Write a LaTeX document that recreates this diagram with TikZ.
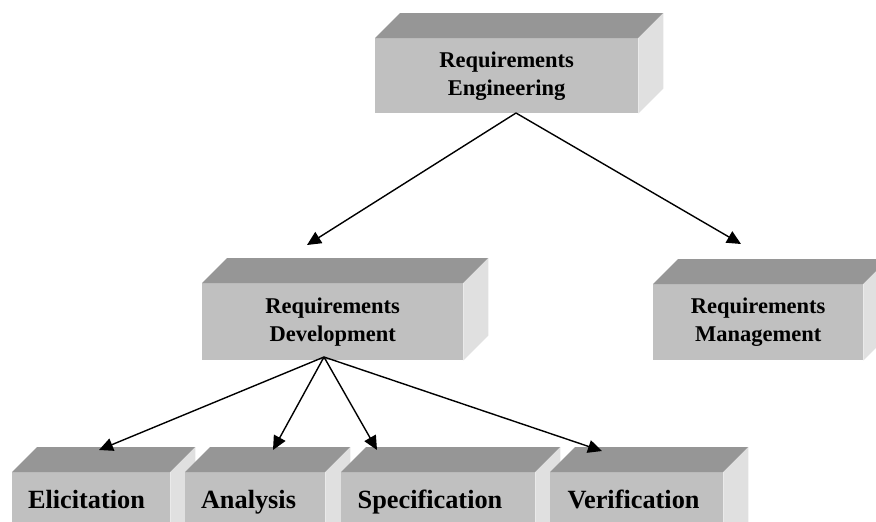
\documentclass[tikz,border=0pt]{standalone}
\usepackage{fontspec}
\setmainfont{Liberation Serif}
\usetikzlibrary{arrows.meta}
\definecolor{frontc}{RGB}{192,192,192}
\definecolor{topc}{RGB}{150,150,150}
\definecolor{sidec}{RGB}{224,224,224}
\tikzset{
  front/.style={fill=frontc, draw=none, inner sep=0pt, anchor=north west, align=center,
    font=\bfseries\fontsize{22.5}{28}\selectfont},
  lowtext/.style={anchor=base, inner sep=0pt, font=\bfseries\fontsize{26.3}{30}\selectfont},
  arr/.style={line width=1.4pt, -{Triangle[length=14pt,width=13pt]}},
}
\newcommand\boxfaces[1]{%
  \fill[topc] (#1.north west) -- ([shift={(25pt,25pt)}]#1.north west)
     -- ([shift={(25pt,25pt)}]#1.north east) -- (#1.north east) -- cycle;
  \fill[sidec] (#1.north east) -- ([shift={(25pt,25pt)}]#1.north east)
     -- ([shift={(25pt,25pt)}]#1.south east) -- (#1.south east) -- cycle;
}
\begin{document}
\begin{tikzpicture}[x=1pt,y=-1pt]
\useasboundingbox (0,0) rectangle (876,522);
\clip (0,0) rectangle (876,522);
\fill[white] (0,0) rectangle (876,522);

% top box
\node[front, minimum width=263pt, minimum height=75pt] (re) at (375,38) {Requirements\\Engineering};
\boxfaces{re}

% middle boxes
\node[front, minimum width=261pt, minimum height=77pt] (rd) at (202,283) {Requirements\\Development};
\boxfaces{rd}
\node[front, minimum width=210pt, minimum height=76pt] (rm) at (653,284) {Requirements\\Management};
\boxfaces{rm}

% bottom boxes
\node[front, minimum width=158pt, minimum height=80pt] (el) at (12,472) {};
\boxfaces{el}
\node[lowtext] (elt) at (86.5,508) {Elicitation};
\node[front, minimum width=140pt, minimum height=80pt] (an) at (185,472) {};
\boxfaces{an}
\node[lowtext] (ant) at (248.5,508) {Analysis};
\node[front, minimum width=194pt, minimum height=80pt] (sp) at (341,472) {};
\boxfaces{sp}
\node[lowtext] (spt) at (430,508) {Specification};
\node[front, minimum width=173pt, minimum height=80pt] (ve) at (550,472) {};
\boxfaces{ve}
\node[lowtext] (vet) at (633.5,508) {Verification};

% arrow end points
\coordinate (reout) at (516,113);
\coordinate (rdin) at (307,245);
\coordinate (rmin) at (741,244);
\coordinate (rdout) at (324,357);
\coordinate (elin) at (99,450);
\coordinate (anin) at (273,450);
\coordinate (spin) at (377,450);
\coordinate (vein) at (602,451);

\draw[arr] (reout) -- (rdin);
\draw[arr] (reout) -- (rmin);
\draw[arr] (rdout) -- (elin);
\draw[arr] (rdout) -- (anin);
\draw[arr] (rdout) -- (spin);
\draw[arr] (rdout) -- (vein);
\end{tikzpicture}
\end{document}
